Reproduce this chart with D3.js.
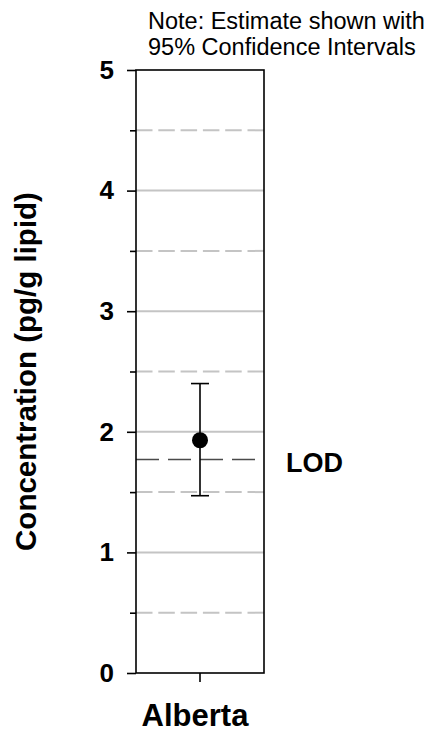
<!DOCTYPE html>
<html>
<head>
<meta charset="utf-8">
<script src="https://cdn.jsdelivr.net/npm/d3@7"></script>
<style>
  html, body { margin: 0; padding: 0; background: #fff; }
  svg { display: block; font-family: "Liberation Sans", Arial, sans-serif; }
</style>
</head>
<body>
<svg id="chart" width="432" height="738"></svg>
<script>
// Estimate with 95% confidence interval per region
const regions = ["Alberta"];
const estimates = [1.93];
const lowerCI = [1.47];
const upperCI = [2.40];
const lodValue = 1.77;
const majorTicks = [0, 1, 2, 3, 4, 5];
const minorTicks = [0.5, 1.5, 2.5, 3.5, 4.5];
const yTitle = "Concentration (pg/g lipid)";
const noteLines = ["Note: Estimate shown with", "95% Confidence Intervals"];

const svg = d3.select("#chart");
const plot = { left: 136, right: 264, top: 70, bottom: 673 };

const x = d3.scaleBand().domain(regions).range([plot.left, plot.right]);
const y = d3.scaleLinear().domain([0, 5]).range([plot.bottom, plot.top]);

// gridlines: solid at whole units, dashed at halves
svg.append("g").selectAll("line").data(majorTicks.filter(d => d > 0 && d < 5)).join("line")
  .attr("x1", plot.left).attr("x2", plot.right)
  .attr("y1", d => y(d)).attr("y2", d => y(d))
  .attr("stroke", "#c4c4c4").attr("stroke-width", 2);
svg.append("g").selectAll("line").data(minorTicks).join("line")
  .attr("x1", plot.left).attr("x2", plot.right)
  .attr("y1", d => y(d)).attr("y2", d => y(d))
  .attr("stroke", "#c4c4c4").attr("stroke-width", 2)
  .attr("stroke-dasharray", "16.5,5.8");

// LOD reference line
svg.append("line")
  .attr("x1", plot.left).attr("x2", plot.right)
  .attr("y1", y(lodValue)).attr("y2", y(lodValue))
  .attr("stroke", "#4a4a4a").attr("stroke-width", 1.6)
  .attr("stroke-dasharray", "23,9");

// frame
svg.append("rect")
  .attr("x", plot.left).attr("y", plot.top)
  .attr("width", plot.right - plot.left).attr("height", plot.bottom - plot.top)
  .attr("fill", "none").attr("stroke", "#000").attr("stroke-width", 1.6);

// y axis
const yAxis = d3.axisLeft(y).tickValues(majorTicks).tickSize(9).tickPadding(13).tickFormat(d3.format("d"));
const gy = svg.append("g").attr("transform", `translate(${plot.left},0)`).call(yAxis);
gy.select(".domain").remove();
gy.selectAll(".tick line").attr("stroke", "#000").attr("stroke-width", 1.6);
gy.selectAll(".tick text")
  .attr("font-family", "'Liberation Sans', Arial, sans-serif")
  .attr("font-size", 26).attr("font-weight", "bold").attr("fill", "#000");

const yMinor = d3.axisLeft(y).tickValues(minorTicks).tickSize(6).tickFormat("");
const gym = svg.append("g").attr("transform", `translate(${plot.left},0)`).call(yMinor);
gym.select(".domain").remove();
gym.selectAll(".tick line").attr("stroke", "#000").attr("stroke-width", 1.6);

// x axis
const xAxis = d3.axisBottom(x).tickSize(9).tickPadding(22);
const gx = svg.append("g").attr("transform", `translate(0,${plot.bottom})`).call(xAxis);
gx.select(".domain").remove();
gx.selectAll(".tick line").attr("stroke", "#000").attr("stroke-width", 1.6);
gx.selectAll(".tick text")
  .attr("font-family", "'Liberation Sans', Arial, sans-serif")
  .attr("font-size", 31).attr("font-weight", "bold").attr("fill", "#000")
  .attr("dx", -5);

// error bars and estimate points
const cx = d => x(d) + x.bandwidth() / 2;
const g = svg.append("g");
regions.forEach((r, i) => {
  g.append("line")
    .attr("x1", cx(r)).attr("x2", cx(r))
    .attr("y1", y(lowerCI[i])).attr("y2", y(upperCI[i]))
    .attr("stroke", "#000").attr("stroke-width", 1.6);
  [lowerCI[i], upperCI[i]].forEach(v => {
    g.append("line")
      .attr("x1", cx(r) - 9).attr("x2", cx(r) + 9)
      .attr("y1", y(v)).attr("y2", y(v))
      .attr("stroke", "#000").attr("stroke-width", 1.6);
  });
  g.append("circle")
    .attr("cx", cx(r)).attr("cy", y(estimates[i])).attr("r", 8)
    .attr("fill", "#000");
});

// LOD label
svg.append("text")
  .attr("x", 286).attr("y", y(lodValue) + 12)
  .attr("font-size", 27).attr("font-weight", "bold")
  .text("LOD");

// y axis title
svg.append("text")
  .attr("transform", `translate(36,${(plot.top + plot.bottom) / 2}) rotate(-90)`)
  .attr("text-anchor", "middle")
  .attr("font-size", 29.5).attr("font-weight", "bold")
  .text(yTitle);

// note
svg.append("g").selectAll("text").data(noteLines).join("text")
  .attr("x", 148).attr("y", (d, i) => 29 + i * 26)
  .attr("font-size", 23.5)
  .text(d => d);
</script>
</body>
</html>
